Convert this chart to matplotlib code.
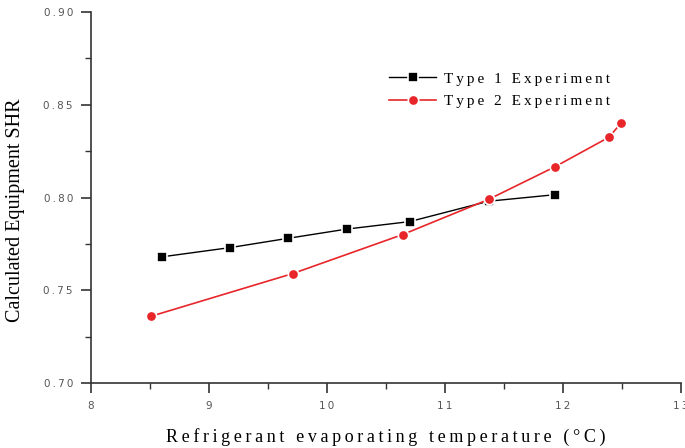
import matplotlib
matplotlib.use('Agg')
import matplotlib.pyplot as plt
from matplotlib.ticker import MultipleLocator, FixedLocator

# evaporating temperature (C) vs calculated SHR
type1_temp = [8.60, 9.18, 9.67, 10.17, 10.70, 11.37, 11.93]
type1_shr = [0.768, 0.773, 0.778, 0.783, 0.787, 0.798, 0.8015]
type2_temp = [8.51, 9.71, 10.64, 11.37, 11.93, 12.39, 12.49]
type2_shr = [0.736, 0.759, 0.780, 0.799, 0.8165, 0.8325, 0.840]

x_ticks = [8, 9, 10, 11, 12, 13]
y_ticks = [0.70, 0.75, 0.80, 0.85, 0.90]

SERIF = ['Liberation Serif', 'DejaVu Serif']
SANS = ['DejaVu Sans']


def spaced(s, sep='\u2009'):
    # loose letter spacing like the exported figure
    return sep.join(s)


fig = plt.figure(figsize=(6.85, 4.48), dpi=100)
ax = fig.add_axes([91 / 685, 65 / 448, 590 / 685, 371 / 448])

ax.plot(type1_temp, type1_shr, color='black', lw=1.0, marker='s', ms=6.5,
        mfc='black', mec='white', mew=1.2, label=spaced('Type 1 Experiment'))
ax.plot(type2_temp, type2_shr, color='#e8262a', lw=1.2, marker='o', ms=7.5,
        mfc='#e8262a', mec='white', mew=1.2, label=spaced('Type 2 Experiment'))

ax.set_xlim(8, 13)
ax.set_ylim(0.70, 0.90)
ax.xaxis.set_major_locator(FixedLocator(x_ticks))
ax.yaxis.set_major_locator(FixedLocator(y_ticks))
ax.xaxis.set_minor_locator(MultipleLocator(0.5))
ax.yaxis.set_minor_locator(MultipleLocator(0.025))
ax.set_xticklabels(['8'] + [spaced(str(t)) for t in x_ticks[1:]],
                   family=SANS, fontsize=7.5, color='#555555')
ax.set_yticklabels([spaced('%.2f' % t) for t in y_ticks],
                   family=SANS, fontsize=7.5, color='#555555')

ax.spines['top'].set_visible(False)
ax.spines['right'].set_visible(False)
for s in ('left', 'bottom'):
    ax.spines[s].set_linewidth(1.2)
    ax.spines[s].set_color('#333333')
ax.tick_params(which='major', direction='out', length=7, width=1.2,
               color='#333333', pad=6)
ax.tick_params(which='minor', direction='out', length=4, width=1.0,
               color='#333333')

ax.set_xlabel(spaced('Refrigerant evaporating temperature (\u00b0C)'),
              family=SERIF, fontsize=13, labelpad=12)
ax.set_ylabel('Calculated Equipment SHR', family=SERIF, fontsize=14.5,
              va='center')
ax.yaxis.set_label_coords(-0.128, 0.465)

leg = ax.legend(loc='upper left', bbox_to_anchor=(0.482, 0.875), frameon=False,
                prop={'family': SERIF, 'size': 11}, handlelength=3.1,
                handletextpad=0.5, labelspacing=0.55)

fig.savefig('out.png', dpi=100)
